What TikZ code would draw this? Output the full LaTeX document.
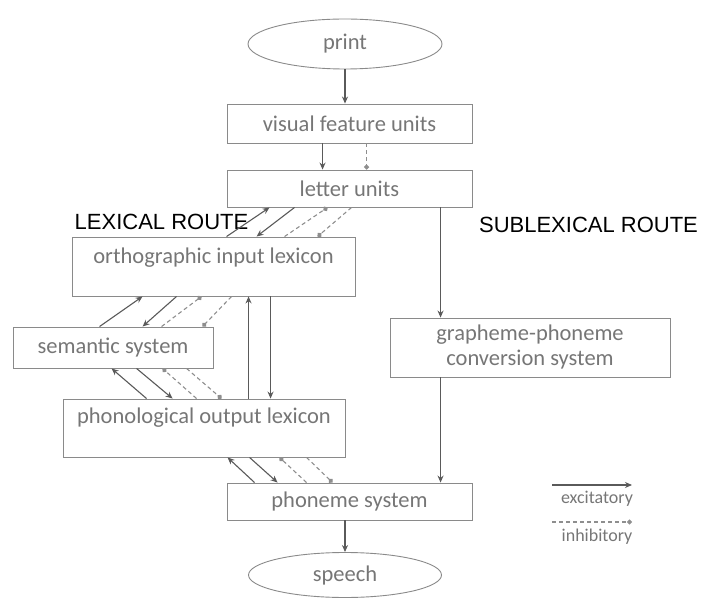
\documentclass[tikz,border=0pt]{standalone}
\usepackage{fontspec}
\setmainfont{Carlito}
\newfontfamily\arialf{Liberation Sans}
\usetikzlibrary{arrows.meta,shapes.geometric}
\definecolor{boxc}{HTML}{8A8A8A}
\definecolor{txtc}{HTML}{767676}
\definecolor{arrc}{HTML}{5A5A5A}
\definecolor{inhc}{HTML}{8E8E8E}
\tikzset{
  box/.style={draw=boxc, line width=0.9pt, rectangle, inner sep=0pt, text=txtc, font=\fontsize{22.5}{25}\selectfont},
  oval/.style={draw=boxc, line width=0.9pt, ellipse, inner sep=0pt, text=txtc, font=\fontsize{22.5}{25}\selectfont},
  lbl/.style={text=txtc, font=\fontsize{22.5}{25}\selectfont, inner sep=0pt},
  route/.style={text=black, font=\arialf\fontsize{22}{25}\selectfont, inner sep=0pt},
  legtxt/.style={text=txtc, font=\fontsize{18}{20}\selectfont, inner sep=0pt},
  exc/.style={draw=arrc, line width=1.1pt, -{Stealth[length=7pt,width=6pt]}},
  inh/.style={draw=inhc, line width=1.1pt, dash pattern=on 4pt off 3pt, -{Circle[length=5pt]}},
}
\begin{document}
\begin{tikzpicture}[x=1pt,y=-1pt]
\useasboundingbox (0,0) rectangle (701,601);
% nodes
\node[oval, minimum width=194pt, minimum height=50pt] (print) at (345,44) {print};
\node[box, minimum width=245pt, minimum height=39pt] (vis) at (349.5,123.5) {visual feature units};
\node[box, minimum width=245pt, minimum height=37pt] (let) at (349.5,188.5) {letter units};
\node[box, minimum width=283pt, minimum height=59pt] (orth) at (213.5,266.5) {};
\node[lbl] (orthT) at (213.5,258) {orthographic input lexicon};
\node[box, minimum width=200pt, minimum height=41pt] (sem) at (113,347.5) {semantic system};
\node[box, minimum width=282pt, minimum height=58pt] (phon) at (204,428) {};
\node[lbl] (phonT) at (204,418) {phonological output lexicon};
\node[box, minimum width=280pt, minimum height=59pt, align=center] (gpc) at (530,347.5) {grapheme-phoneme\\conversion system};
\node[box, minimum width=245pt, minimum height=37pt] (phs) at (349.5,501.5) {phoneme system};
\node[oval, minimum width=193pt, minimum height=45pt] (speech) at (345,575) {speech};
\node[route] (lex) at (161.5,222) {LEXICAL ROUTE};
\node[route] (sub) at (588.5,225) {SUBLEXICAL ROUTE};
% vertical connectors
\draw[exc] (print.south) -- (print.south |- vis.north);
\draw[exc] ([xshift=96pt]vis.south west) -- ([xshift=96pt]let.north west);
\draw[inh] ([xshift=140pt]vis.south west) -- ([xshift=140pt]let.north west);
\draw[exc] ([xshift=214pt]let.south west) -- ([xshift=51pt]gpc.north west);
\draw[exc] ([xshift=51pt]gpc.south west) -- ([xshift=214pt]phs.north west);
\draw[exc] ([xshift=186pt]phon.north west) -- ([xshift=177pt]orth.south west);
\draw[exc] ([xshift=199pt]orth.south west) -- ([xshift=208pt]phon.north west);
\draw[exc] (phs.south -| speech.north) -- (speech.north);
% letter <-> orth
\draw[exc] ([xshift=155pt]orth.north west) -- ([xshift=43pt]let.south west);
\draw[exc] ([xshift=68pt]let.south west) -- ([xshift=185pt]orth.north west);
\draw[inh] ([xshift=213pt]orth.north west) -- ([xshift=101pt]let.south west);
\draw[inh] ([xshift=125pt]let.south west) -- ([xshift=246pt]orth.north west);
% orth <-> sem
\draw[exc] ([xshift=87pt]sem.north west) -- ([xshift=71pt]orth.south west);
\draw[exc] ([xshift=105pt]orth.south west) -- ([xshift=130pt]sem.north west);
\draw[inh] ([xshift=149pt]sem.north west) -- ([xshift=130pt]orth.south west);
\draw[inh] ([xshift=160pt]orth.south west) -- ([xshift=190pt]sem.north west);
% sem <-> phon
\draw[exc] ([xshift=84pt]phon.north west) -- ([xshift=99pt]sem.south west);
\draw[exc] ([xshift=124pt]sem.south west) -- ([xshift=110pt]phon.north west);
\draw[inh] ([xshift=134pt]phon.north west) -- ([xshift=150pt]sem.south west);
\draw[inh] ([xshift=174pt]sem.south west) -- ([xshift=159pt]phon.north west);
% phon <-> phoneme
\draw[exc] ([xshift=28pt]phs.north west) -- ([xshift=165pt]phon.south west);
\draw[exc] ([xshift=187pt]phon.south west) -- ([xshift=51pt]phs.north west);
\draw[inh] ([xshift=80pt]phs.north west) -- ([xshift=217pt]phon.south west);
\draw[inh] ([xshift=244pt]phon.south west) -- ([xshift=106pt]phs.north west);
% legend
\coordinate (e1) at (552,485);
\coordinate (e2) at (632,485);
\draw[exc] (e1) -- (e2);
\node[legtxt] (etxt) at (597,499) {excitatory};
\coordinate (i1) at (552,522);
\coordinate (i2) at (632,522);
\draw[inh] (i1) -- (i2);
\node[legtxt] (itxt) at (597,537) {inhibitory};
\end{tikzpicture}
\end{document}
